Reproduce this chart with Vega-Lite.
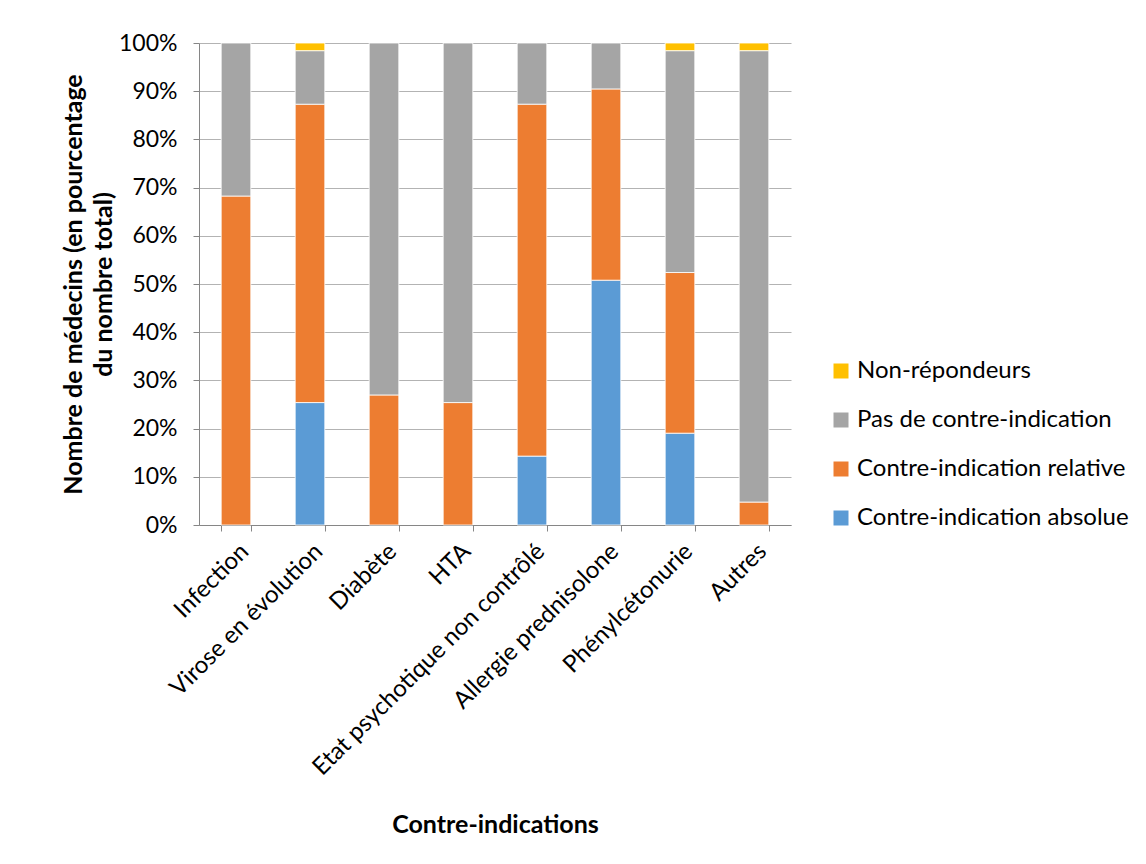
{
  "$schema": "https://vega.github.io/schema/vega-lite/v6.json",
  "width": 592,
  "height": 482,
  "autosize": "none",
  "padding": {"left": 199, "top": 43, "right": 355, "bottom": 339},
  "background": "white",
  "config": {
    "font": "Lato",
    "view": {"stroke": null},
    "axis": {"labelFont": "Lato", "titleFont": "Lato", "labelColor": "#000000", "titleColor": "#000000"}
  },
  "data": {
    "values": [
      {"contre_indication": "Infection", "type": "Contre-indication relative", "part": 0.6825},
      {"contre_indication": "Infection", "type": "Pas de contre-indication", "part": 0.3175},
      {"contre_indication": "Virose en évolution", "type": "Contre-indication absolue", "part": 0.254},
      {"contre_indication": "Virose en évolution", "type": "Contre-indication relative", "part": 0.619},
      {"contre_indication": "Virose en évolution", "type": "Pas de contre-indication", "part": 0.1111},
      {"contre_indication": "Virose en évolution", "type": "Non-répondeurs", "part": 0.0159},
      {"contre_indication": "Diabète", "type": "Contre-indication relative", "part": 0.2698},
      {"contre_indication": "Diabète", "type": "Pas de contre-indication", "part": 0.7302},
      {"contre_indication": "HTA", "type": "Contre-indication relative", "part": 0.254},
      {"contre_indication": "HTA", "type": "Pas de contre-indication", "part": 0.746},
      {"contre_indication": "Etat psychotique non contrôlé", "type": "Contre-indication absolue", "part": 0.1429},
      {"contre_indication": "Etat psychotique non contrôlé", "type": "Contre-indication relative", "part": 0.7302},
      {"contre_indication": "Etat psychotique non contrôlé", "type": "Pas de contre-indication", "part": 0.1269},
      {"contre_indication": "Allergie prednisolone", "type": "Contre-indication absolue", "part": 0.5079},
      {"contre_indication": "Allergie prednisolone", "type": "Contre-indication relative", "part": 0.3968},
      {"contre_indication": "Allergie prednisolone", "type": "Pas de contre-indication", "part": 0.0953},
      {"contre_indication": "Phénylcétonurie", "type": "Contre-indication absolue", "part": 0.1905},
      {"contre_indication": "Phénylcétonurie", "type": "Contre-indication relative", "part": 0.3333},
      {"contre_indication": "Phénylcétonurie", "type": "Pas de contre-indication", "part": 0.4603},
      {"contre_indication": "Phénylcétonurie", "type": "Non-répondeurs", "part": 0.0159},
      {"contre_indication": "Autres", "type": "Contre-indication relative", "part": 0.0476},
      {"contre_indication": "Autres", "type": "Pas de contre-indication", "part": 0.9365},
      {"contre_indication": "Autres", "type": "Non-répondeurs", "part": 0.0159}
    ]
  },
  "transform": [
    {"calculate": "indexof(['Contre-indication absolue','Contre-indication relative','Pas de contre-indication','Non-répondeurs'], datum.type)", "as": "rang"}
  ],
  "mark": {"type": "bar", "stroke": "white", "strokeWidth": 0.8},
  "encoding": {
    "x": {
      "field": "contre_indication",
      "type": "nominal",
      "sort": null,
      "scale": {"paddingInner": 0.6, "paddingOuter": 0.3},
      "axis": {
        "title": "Contre-indications",
        "titleFontSize": 25,
        "titleFontWeight": "bold",
        "titlePadding": 87,
        "labelAngle": -45,
        "labelFontSize": 24,
        "labelLimit": 0,
        "labelPadding": 8,
        "tickBand": "extent",
        "tickSize": 6,
        "tickColor": "#868686",
        "domainColor": "#868686",
        "grid": false
      }
    },
    "y": {
      "field": "part",
      "type": "quantitative",
      "stack": "zero",
      "scale": {"domain": [0, 1], "nice": false},
      "axis": {
        "title": ["Nombre de médecins (en pourcentage", "du nombre total)"],
        "titleFontSize": 25,
        "titleFontWeight": "bold",
        "titleLineHeight": 30,
        "titlePadding": 2,
        "format": ".0%",
        "values": [0, 0.1, 0.2, 0.3, 0.4, 0.5, 0.6, 0.7, 0.8, 0.9, 1],
        "labelFontSize": 23,
        "labelPadding": 16,
        "tickSize": 6,
        "tickColor": "#868686",
        "domainColor": "#868686",
        "gridColor": "#b3b3b3",
        "gridWidth": 1
      }
    },
    "color": {
      "field": "type",
      "type": "nominal",
      "scale": {
        "domain": ["Non-répondeurs", "Pas de contre-indication", "Contre-indication relative", "Contre-indication absolue"],
        "range": ["#ffc000", "#a5a5a5", "#ed7d31", "#5b9bd5"]
      },
      "legend": {
        "title": null,
        "orient": "none",
        "legendX": 630,
        "legendY": 316,
        "symbolType": "square",
        "symbolSize": 225,
        "symbolStrokeWidth": 0,
        "labelFontSize": 24,
        "labelFont": "Lato",
        "labelColor": "#000000",
        "labelLimit": 0,
        "rowPadding": 25,
        "labelOffset": 4
      }
    },
    "order": {"field": "rang", "type": "quantitative"}
  }
}
